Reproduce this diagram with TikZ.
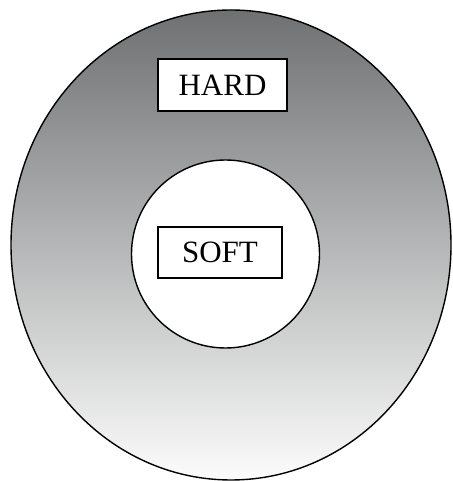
\documentclass[tikz,border=0pt]{standalone}
\usepackage{fontspec}
\setmainfont{Liberation Serif}
\usetikzlibrary{calc}
\definecolor{hardtop}{RGB}{110,112,113}
\definecolor{hardbottom}{RGB}{252,252,252}

\begin{document}
\begin{tikzpicture}[x=1pt, y=1pt,
    label box/.style={draw, line width=1.4pt, fill=white, inner sep=0pt,
        font=\fontsize{31}{31}\selectfont}]

    % page size
    \useasboundingbox (0,0) rectangle (452,481);

    % centres
    \coordinate (O) at (231,236);
    \coordinate (I) at (225.5,227);

    % outer layer
    \shade[top color=hardtop, bottom color=hardbottom]
        (O) ellipse [x radius=220, y radius=235];
    \draw[line width=1.4pt] (O) ellipse [x radius=220, y radius=235];

    % inner layer
    \draw[line width=1.4pt, fill=white] (I) circle [radius=94];

    % labels
    \node[label box, minimum width=129, minimum height=52] (hard) at (222.5,396) {HARD};
    \node[label box, minimum width=124, minimum height=51] (soft) at (220,228.5) {SOFT};

\end{tikzpicture}
\end{document}
